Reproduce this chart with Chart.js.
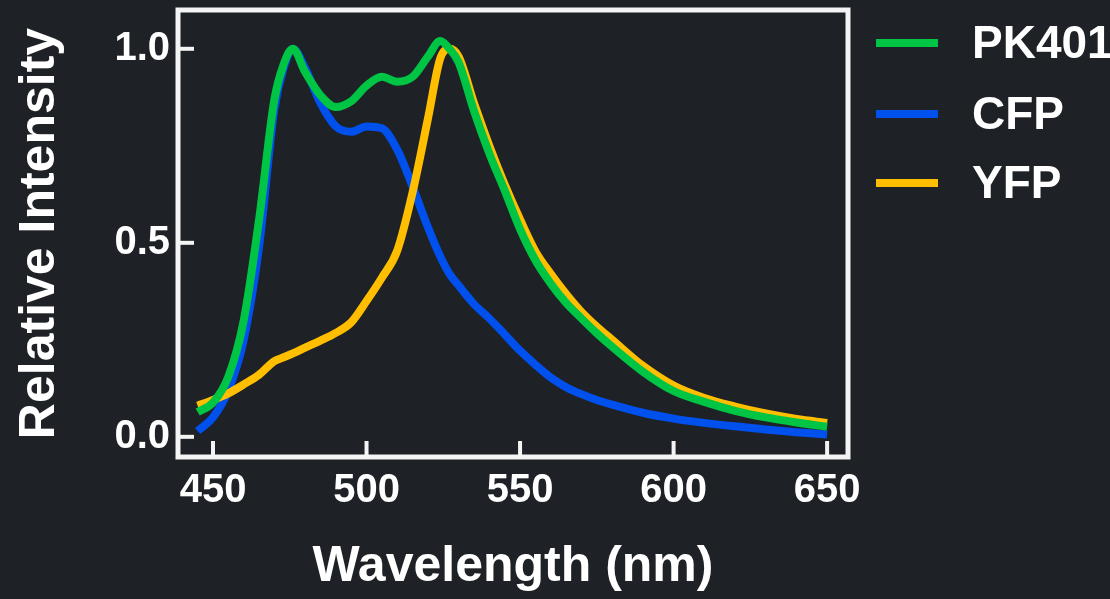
<!DOCTYPE html>
<html>
<head>
<meta charset="utf-8">
<script src="https://cdn.jsdelivr.net/npm/chart.js@4.4.0/dist/chart.umd.min.js"></script>
<style>
  html, body { margin: 0; padding: 0; background: #1e2125; }
  canvas { display: block; }
</style>
</head>
<body>
<canvas id="spectraChart" width="1110" height="599"></canvas>
<script>
// wavelengths (nm) where the curves were read
const wavelengths = [445, 450, 455, 460, 465, 470, 473, 476, 480, 485, 490, 495, 500, 505, 510, 515, 520, 524, 527, 530,
                     535, 540, 545, 550, 555, 560, 565, 570, 575, 580, 590, 600, 610, 620, 630, 640, 650];

const pk401 = [0.064, 0.088, 0.155, 0.30, 0.56, 0.87, 0.96, 1.0, 0.94, 0.88, 0.85, 0.865, 0.905, 0.928, 0.915, 0.928, 0.98, 1.02, 1.0, 0.965,
               0.84, 0.73, 0.635, 0.535, 0.455, 0.395, 0.345, 0.305, 0.267, 0.232, 0.168, 0.118, 0.09, 0.067, 0.05, 0.037, 0.026];
const cfp = [0.015, 0.05, 0.12, 0.25, 0.49, 0.845, 0.95, 1.0, 0.95, 0.86, 0.80, 0.786, 0.80, 0.795, 0.74, 0.645, 0.54, 0.465, 0.42, 0.39,
             0.342, 0.305, 0.264, 0.222, 0.186, 0.153, 0.128, 0.11, 0.095, 0.083, 0.062, 0.047, 0.036, 0.027, 0.019, 0.012, 0.006];
const yfp = [0.08, 0.095, 0.112, 0.135, 0.16, 0.195, 0.205, 0.215, 0.23, 0.248, 0.268, 0.295, 0.35, 0.41, 0.48, 0.63, 0.82, 0.975, 1.0, 0.98,
             0.86, 0.75, 0.65, 0.56, 0.478, 0.42, 0.368, 0.322, 0.284, 0.25, 0.183, 0.132, 0.1, 0.078, 0.06, 0.046, 0.036];

const xTicks = [450, 500, 550, 600, 650];
const yTicks = [0, 0.5, 1.0];

const legendItems = [
    { label: "PK401", color: "#00c444" },
    { label: "CFP", color: "#0050ee" },
    { label: "YFP", color: "#ffbf00" }
];

const FONT = "'Liberation Sans', Arial, sans-serif";

function toPoints(values) {
    return wavelengths.map((w, i) => ({ x: w, y: values[i] }));
}

// frame, inward ticks and the legend on the right
const framePlugin = {
    id: "frame",
    afterDraw(chart) {
        const ctx = chart.ctx;
        const area = chart.chartArea;
        const xs = chart.scales.x;
        const ys = chart.scales.y;
        ctx.save();
        ctx.strokeStyle = "#f4f4f4";
        ctx.lineWidth = 4;
        xTicks.forEach(v => {
            let px = xs.getPixelForValue(v);
            ctx.beginPath();
            ctx.moveTo(px, area.bottom);
            ctx.lineTo(px, area.bottom - 16);
            ctx.stroke();
        });
        yTicks.forEach(v => {
            let py = ys.getPixelForValue(v);
            ctx.beginPath();
            ctx.moveTo(area.left, py);
            ctx.lineTo(area.left + 16, py);
            ctx.stroke();
        });
        ctx.lineWidth = 5;
        ctx.strokeRect(area.left, area.top, area.right - area.left, area.bottom - area.top);

        // legend
        const rowY = [43, 114, 183];
        ctx.font = "bold 46px " + FONT;
        ctx.textBaseline = "middle";
        ctx.textAlign = "left";
        legendItems.forEach((item, i) => {
            ctx.strokeStyle = item.color;
            ctx.lineWidth = 8;
            ctx.beginPath();
            ctx.moveTo(876, rowY[i]);
            ctx.lineTo(938, rowY[i]);
            ctx.stroke();
            ctx.fillStyle = "#ffffff";
            ctx.fillText(item.label, 972, rowY[i] + 2);
        });
        ctx.restore();
    }
};

const ctx = document.getElementById("spectraChart").getContext("2d");
const spectraChart = new Chart(ctx, {
    type: "line",
    data: {
        datasets: [
            { label: "PK401", data: toPoints(pk401), borderColor: "#00c444" },
            { label: "YFP", data: toPoints(yfp), borderColor: "#ffbf00" },
            { label: "CFP", data: toPoints(cfp), borderColor: "#0050ee" }
        ]
    },
    options: {
        responsive: false,
        animation: false,
        devicePixelRatio: 1,
        layout: { padding: { top: 10, right: 262, left: 0, bottom: 0 } },
        elements: {
            line: { borderWidth: 8, cubicInterpolationMode: "monotone", fill: false },
            point: { radius: 0 }
        },
        plugins: {
            legend: { display: false },
            tooltip: { enabled: false }
        },
        scales: {
            x: {
                type: "linear",
                min: 438.6,
                max: 656.8,
                grid: { display: false, drawTicks: false },
                border: { display: false },
                afterBuildTicks: scale => { scale.ticks = xTicks.map(v => ({ value: v })); },
                afterFit: scale => {
                    scale.height = 142;
                    scale.paddingLeft = 0;
                    scale.paddingRight = 0;
                },
                ticks: {
                    color: "#ffffff",
                    padding: 10,
                    maxRotation: 0,
                    font: { family: FONT, size: 40, weight: "bold" }
                },
                title: {
                    display: true,
                    text: "Wavelength (nm)",
                    color: "#ffffff",
                    padding: { top: 0, bottom: 2 },
                    font: { family: FONT, size: 50, weight: "bold" }
                }
            },
            y: {
                type: "linear",
                min: -0.052,
                max: 1.10,
                grid: { display: false, drawTicks: false },
                border: { display: false },
                afterBuildTicks: scale => { scale.ticks = yTicks.map(v => ({ value: v })); },
                afterFit: scale => {
                    scale.width = 178;
                    scale.paddingTop = 0;
                    scale.paddingBottom = 0;
                },
                ticks: {
                    color: "#ffffff",
                    padding: 8,
                    callback: v => v.toFixed(1),
                    font: { family: FONT, size: 40, weight: "bold" }
                },
                title: {
                    display: true,
                    text: "Relative Intensity",
                    color: "#ffffff",
                    padding: { top: 10, bottom: 0 },
                    font: { family: FONT, size: 50, weight: "bold" }
                }
            }
        }
    },
    plugins: [framePlugin]
});
</script>
</body>
</html>
